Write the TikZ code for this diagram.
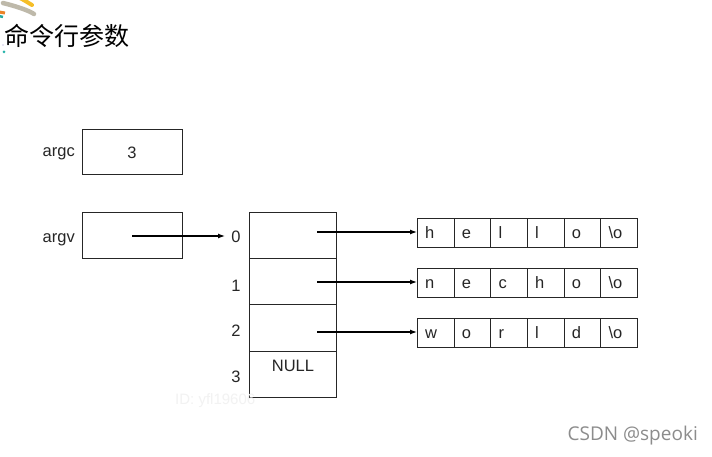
\documentclass[tikz,border=0pt]{standalone}
\usepackage{fontspec}
\setmainfont{Liberation Sans}
\newfontfamily\cjk{Noto Sans CJK SC}
\newfontfamily\osans{Open Sans}
\usetikzlibrary{arrows.meta}
\begin{document}
\begin{tikzpicture}[x=1pt,y=-1pt,
  box/.style={draw=black!85,line width=0.9pt},
  lbl/.style={font=\fontsize{16.5}{18}\selectfont,text=black!85,inner sep=0pt,anchor=base},
  ptr/.style={line width=1.2pt,-{Latex[length=7pt,width=5pt]}},
  cell/.style={draw=black!85,line width=0.9pt,minimum width=36.67pt,minimum height=29pt,inner sep=0pt,anchor=north west}]
\fill[white] (0,0) rectangle (712,457);
\useasboundingbox (0,0) rectangle (712,457);
% decoration
\draw[line width=4pt,color={rgb,255:red,245;green,190;blue,40},line cap=round] (18,-3) .. controls (26,1) and (30,4) .. (32,5);
\draw[line width=4.5pt,color={rgb,255:red,190;green,185;blue,170},line cap=round] (3,3) .. controls (15,6) and (28,10) .. (34,14);
\draw[line width=3pt,color={rgb,255:red,235;green,130;blue,40}] (-1,12) -- (5,13);
\draw[line width=2.5pt,color={rgb,255:red,40;green,170;blue,160}] (-1,16) -- (3,17);
\fill[color={rgb,255:red,40;green,180;blue,170}] (4,52) circle (1.5pt);
\fill[color={rgb,255:red,150;green,140;blue,200}] (3,45) circle (0.6pt);
\node[anchor=west,inner sep=0pt,font=\cjk\fontsize{25}{28}\selectfont] (title) at (4,36) {命令行参数};
% argc / argv
\node[box,minimum width=100pt,minimum height=45pt,anchor=north west,inner sep=0pt] (argcbox) at (82,129) {};
\node[lbl] (three) at (132,159) {3};
\node[lbl,anchor=base east] (argc) at (75,157) {argc};
\node[box,minimum width=100pt,minimum height=46pt,anchor=north west,inner sep=0pt] (argvbox) at (82,212) {};
\node[lbl,anchor=base east] (argv) at (75,243) {argv};
\coordinate (argvp) at (132,236);
\coordinate (argvend) at (225,236);
% array
\node[box,minimum width=87pt,minimum height=46pt,anchor=north west,inner sep=0pt] (a0) at (249,212) {};
\node[box,minimum width=87pt,minimum height=46pt,anchor=north west,inner sep=0pt] (a1) at (249,258) {};
\node[box,minimum width=87pt,minimum height=47pt,anchor=north west,inner sep=0pt] (a2) at (249,304) {};
\node[box,minimum width=87pt,minimum height=46pt,anchor=north west,inner sep=0pt] (a3) at (249,351) {};
\node[lbl] (nul) at (293,371) {NULL};
\node[lbl] (i0) at (236,243) {0};
\node[lbl] (i1) at (236,291) {1};
\node[lbl] (i2) at (236,336) {2};
\node[lbl] (i3) at (236,382) {3};
\draw[ptr] (argvp) -- (argvend);
\coordinate (p0) at (317,232);
\coordinate (p1) at (317,282);
\coordinate (p2) at (317,332);
% strings
\foreach \row/\y/\letters in {r1/218/{h,e,l,l,o,\textbackslash o},r2/268/{n,e,c,h,o,\textbackslash o},r3/318/{w,o,r,l,d,\textbackslash o}}{
  \foreach \ch [count=\i from 0] in \letters {
    \node[cell] (\row c\i) at ({417+36.67*\i},\y) {};
    \node[anchor=base west,inner sep=0pt,font=\fontsize{16.5}{18}\selectfont,text=black!85] at ({425+36.67*\i},\y+20.5) {\ch};
  }
}
\draw[ptr] (p0) -- (p0 -| r1c0.west);
\draw[ptr] (p1) -- (p1 -| r2c0.west);
\draw[ptr] (p2) -- (p2 -| r3c0.west);
% watermarks
\node[anchor=west,inner sep=0pt,font=\fontsize{15}{17}\selectfont,text=black!5] (wm) at (175,401) {ID: yfl19606};
\node[anchor=east,inner sep=0pt,font=\osans\fontsize{19}{21}\selectfont,text=black!45] (csdn) at (698,436) {CSDN @speoki};
\end{tikzpicture}
\end{document}
